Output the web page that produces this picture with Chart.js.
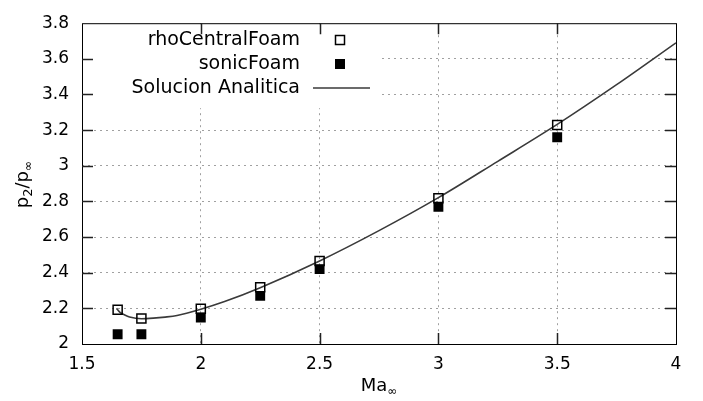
<!DOCTYPE html>
<html>
<head>
<meta charset="utf-8">
<script src="https://cdn.jsdelivr.net/npm/chart.js@4.4.1/dist/chart.umd.min.js"></script>
<style>
  html, body { margin: 0; padding: 0; background: #fff; }
  #wrap { width: 703px; height: 401px; }
</style>
</head>
<body>
<div id="wrap"><canvas id="chart"></canvas></div>
<script>
const machSim = [1.65, 1.75, 2.0, 2.25, 2.5, 3.0, 3.5];
const rhoCentral = [2.192, 2.143, 2.198, 2.318, 2.466, 2.818, 3.229];
const sonic = [2.055, 2.055, 2.148, 2.27, 2.42, 2.77, 3.16];

const machAnalytic = [1.645, 1.66, 1.68, 1.7, 1.75, 1.8, 1.85, 1.9, 2.0, 2.1, 2.25, 2.5, 2.75, 3.0, 3.25, 3.5, 3.75, 4.0];
const pAnalytic = [2.20, 2.178, 2.163, 2.152, 2.142, 2.145, 2.151, 2.16, 2.195, 2.238, 2.316, 2.466, 2.636, 2.821, 3.025, 3.232, 3.455, 3.69];

const xTicks = [1.5, 2, 2.5, 3, 3.5, 4];
const yTicks = [2, 2.2, 2.4, 2.6, 2.8, 3, 3.2, 3.4, 3.6, 3.8];

const FONT = 'DejaVu Sans';

function pts(xs, ys) {
    return xs.map((x, i) => ({ x: x, y: ys[i] }));
}

const gnuplotPlugin = {
    id: 'gnuplot',
    afterDraw(chart) {
        const ctx = chart.ctx;
        const a = chart.chartArea;
        const xs = chart.scales.x, ys = chart.scales.y;
        ctx.save();

        // legend box (opaque)
        ctx.fillStyle = '#fff';
        ctx.fillRect(a.left + 1, a.top + 1, 296, 84);
        ctx.font = '19px ' + FONT;
        ctx.textAlign = 'right';
        ctx.textBaseline = 'middle';
        const rows = [40, 64, 88];
        const ds = chart.data.datasets;
        const sx = 340;
        ds.forEach((d, i) => {
            ctx.fillStyle = '#000';
            ctx.fillText(d.label, 300, rows[i]);
            if (i === 0) {
                ctx.strokeStyle = '#000';
                ctx.lineWidth = 1.5;
                ctx.strokeRect(sx - 4.5, rows[i] - 4.5, 9, 9);
            } else if (i === 1) {
                ctx.fillRect(sx - 5, rows[i] - 5, 10, 10);
            } else {
                ctx.strokeStyle = d.borderColor;
                ctx.lineWidth = d.borderWidth;
                ctx.beginPath();
                ctx.moveTo(313, rows[i]);
                ctx.lineTo(370, rows[i]);
                ctx.stroke();
            }
        });

        // frame
        ctx.strokeStyle = '#000';
        ctx.lineWidth = 1;
        ctx.strokeRect(a.left + 0.5, a.top + 0.5, a.right - a.left, a.bottom - a.top);

        // inward ticks, mirrored
        ctx.strokeStyle = '#222';
        ctx.lineWidth = 1.5;
        ctx.beginPath();
        yTicks.forEach(v => {
            const y = Math.round(ys.getPixelForValue(v)) + 0.5;
            if (v === yTicks[0] || v === yTicks[yTicks.length - 1]) return;
            ctx.moveTo(a.left, y); ctx.lineTo(a.left + 11, y);
            ctx.moveTo(a.right, y); ctx.lineTo(a.right - 11, y);
        });
        xTicks.forEach(v => {
            const x = Math.round(xs.getPixelForValue(v)) + 0.5;
            if (v === xTicks[0] || v === xTicks[xTicks.length - 1]) return;
            ctx.moveTo(x, a.bottom); ctx.lineTo(x, a.bottom - 11);
            ctx.moveTo(x, a.top); ctx.lineTo(x, a.top + 11);
        });
        ctx.stroke();

        // axis titles with subscripts
        ctx.fillStyle = '#000';
        ctx.textAlign = 'left';
        ctx.textBaseline = 'alphabetic';
        ctx.font = '18px ' + FONT;
        const mw = ctx.measureText('Ma').width;
        ctx.font = '12px ' + FONT;
        const iw = ctx.measureText('\u221e').width;
        let tx = (a.left + a.right) / 2 - (mw + iw) / 2;
        ctx.font = '18px ' + FONT;
        ctx.fillText('Ma', tx, 391);
        ctx.font = '12px ' + FONT;
        ctx.fillText('\u221e', tx + mw, 395);

        ctx.translate(28, (a.top + a.bottom) / 2 + 1);
        ctx.rotate(-Math.PI / 2);
        const parts = [['p', 18, 0], ['2', 13, 4], ['/p', 18, 0], ['\u221e', 12, 4]];
        let total = 0;
        parts.forEach(p => { ctx.font = p[1] + 'px ' + FONT; total += ctx.measureText(p[0]).width; });
        let px = -total / 2;
        parts.forEach(p => {
            ctx.font = p[1] + 'px ' + FONT;
            ctx.fillText(p[0], px, p[2]);
            px += ctx.measureText(p[0]).width;
        });
        ctx.restore();
    }
};

const gridColor = (ctx, list) => {
    const v = ctx.tick && ctx.tick.value;
    if (v === list[0] || v === list[list.length - 1]) return 'rgba(0,0,0,0)';
    return '#a0a0a0';
};

const config = {
    type: 'scatter',
    data: {
        datasets: [
            {
                label: 'rhoCentralFoam',
                data: pts(machSim, rhoCentral),
                pointStyle: 'rect',
                pointRadius: 6.4,
                pointBorderWidth: 1.5,
                pointBorderColor: '#000',
                pointBackgroundColor: 'rgba(0,0,0,0)',
                order: 1
            },
            {
                label: 'sonicFoam',
                data: pts(machSim, sonic),
                pointStyle: 'rect',
                pointRadius: 7,
                pointBorderWidth: 0,
                pointBackgroundColor: '#000',
                order: 3
            },
            {
                label: 'Solucion Analitica',
                data: pts(machAnalytic, pAnalytic),
                showLine: true,
                pointRadius: 0,
                borderColor: '#3a3a3a',
                borderWidth: 1.6,
                cubicInterpolationMode: 'monotone',
                order: 2
            }
        ]
    },
    options: {
        responsive: false,
        animation: false,
        layout: { padding: { top: 17, right: 27, left: 0, bottom: 0 } },
        plugins: {
            legend: { display: false },
            tooltip: { enabled: false }
        },
        scales: {
            x: {
                type: 'linear',
                min: 1.5,
                max: 4,
                afterBuildTicks: s => { s.ticks = xTicks.map(v => ({ value: v })); },
                afterFit: s => { s.height = 57; },
                ticks: {
                    color: '#000',
                    font: { family: FONT, size: 17 },
                    padding: 10,
                    maxRotation: 0,
                    callback: v => String(v)
                },
                grid: {
                    color: c => gridColor(c, xTicks),
                    lineWidth: 1,
                    drawTicks: false
                },
                border: { display: false, dash: [2, 4] }
            },
            y: {
                type: 'linear',
                min: 2,
                max: 3.8,
                afterBuildTicks: s => { s.ticks = yTicks.map(v => ({ value: v })); },
                afterFit: s => { s.width = 82; },
                ticks: {
                    color: '#000',
                    font: { family: FONT, size: 17 },
                    padding: 13,
                    callback: v => String(Math.round(v * 10) / 10)
                },
                grid: {
                    color: c => gridColor(c, yTicks),
                    lineWidth: 1,
                    drawTicks: false
                },
                border: { display: false, dash: [2, 4] }
            }
        }
    },
    plugins: [gnuplotPlugin]
};

const canvas = document.getElementById('chart');
canvas.width = 703;
canvas.height = 401;
new Chart(canvas, config);
</script>
</body>
</html>
